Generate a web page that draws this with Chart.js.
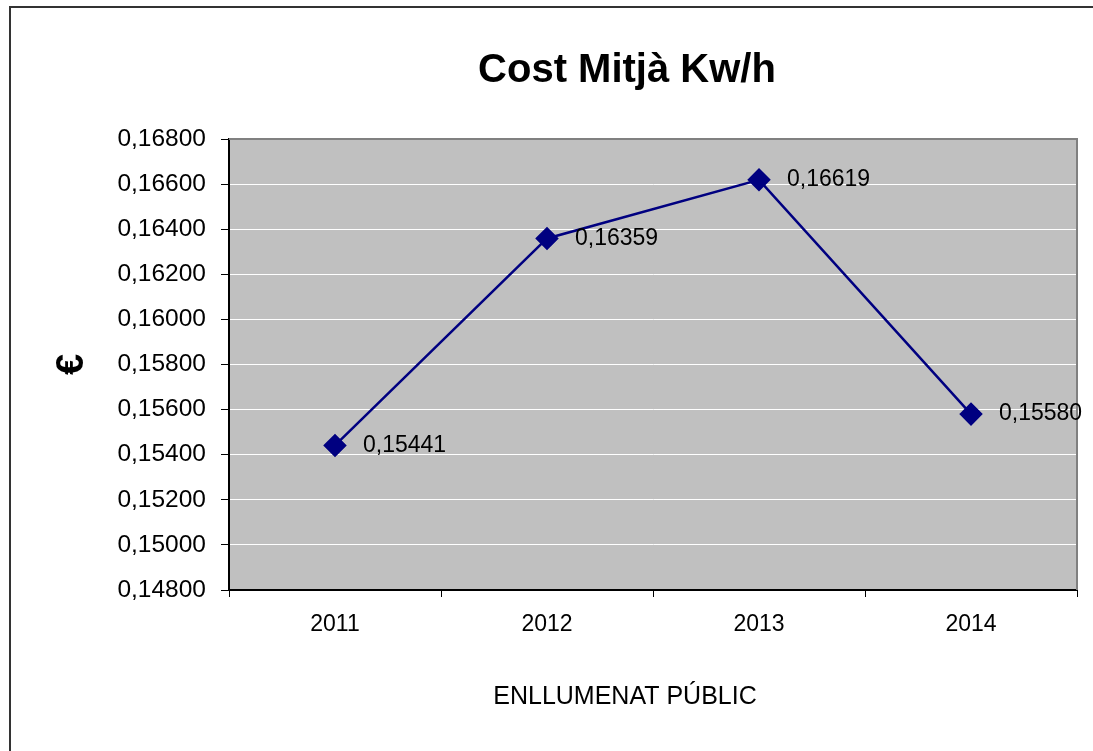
<!DOCTYPE html>
<html>
<head>
<meta charset="utf-8">
<script src="https://cdn.jsdelivr.net/npm/chart.js@4.4.0/dist/chart.umd.min.js"></script>
<style>
  html, body { margin: 0; padding: 0; background: #fff; overflow: hidden; }
  #frame {
    position: absolute; left: 9px; top: 6px; width: 2000px; height: 2000px;
    border-top: 2px solid #333; border-left: 2px solid #333;
  }
  #chart { position: absolute; left: 0; top: 0; }
</style>
</head>
<body>
<div id="frame"></div>
<canvas id="chart" width="1093" height="751"></canvas>
<script>
// chart data
const years = ['2011', '2012', '2013', '2014'];
const costPerKwh = [0.15441, 0.16359, 0.16619, 0.15580];
const yMin = 0.148;
const yMax = 0.168;
const yStep = 0.002;

const chartTitle = 'Cost Mitjà Kw/h';
const xTitle = 'ENLLUMENAT PÚBLIC';
const yTitle = '€';

const FONT = "'Liberation Sans', Arial, sans-serif";
const NAVY = '#000080';

const fmt = v => v.toFixed(5).replace('.', ',');

// grey plot background + top/right frame, like the old Excel chart
const plotArea = {
    id: 'plotArea',
    beforeDraw(chart) {
        const { ctx, chartArea: a } = chart;
        ctx.save();
        ctx.fillStyle = '#C0C0C0';
        ctx.fillRect(a.left, a.top, a.right - a.left, a.bottom - a.top);
        ctx.restore();
    },
    beforeDatasetsDraw(chart) {
        const { ctx, chartArea: a } = chart;
        ctx.save();
        ctx.strokeStyle = '#808080';
        ctx.lineWidth = 2;
        ctx.beginPath();
        ctx.moveTo(a.left, a.top);
        ctx.lineTo(a.right, a.top);
        ctx.lineTo(a.right, a.bottom);
        ctx.stroke();
        ctx.restore();
    }
};

// value labels next to the points, main title and x title
const labelsAndTitle = {
    id: 'labelsAndTitle',
    afterDatasetsDraw(chart) {
        const { ctx } = chart;
        const meta = chart.getDatasetMeta(0);
        ctx.save();
        ctx.fillStyle = '#000';
        ctx.font = `23px ${FONT}`;
        ctx.textAlign = 'left';
        ctx.textBaseline = 'middle';
        meta.data.forEach((pt, i) => {
            ctx.fillText(fmt(costPerKwh[i]), pt.x + 28, pt.y);
        });
        ctx.textAlign = 'center';
        ctx.font = `bold 40px ${FONT}`;
        ctx.fillText(chartTitle, 627, 71);
        ctx.font = `25px ${FONT}`;
        ctx.fillText(xTitle, 625, 697);
        ctx.restore();
    }
};

new Chart(document.getElementById('chart'), {
    type: 'line',
    data: {
        labels: years,
        datasets: [{
            data: costPerKwh,
            borderColor: NAVY,
            backgroundColor: NAVY,
            borderWidth: 2.5,
            tension: 0,
            pointStyle: 'rectRot',
            pointRadius: 10,
            pointHoverRadius: 10
        }]
    },
    options: {
        responsive: false,
        animation: false,
        events: [],
        layout: { padding: { left: 0, top: 139, right: 16, bottom: 0 } },
        plugins: {
            legend: { display: false },
            tooltip: { enabled: false },
            title: { display: false }
        },
        scales: {
            x: {
                offset: true,
                afterFit(scale) { scale.height = 161; },
                grid: {
                    offset: true,
                    drawOnChartArea: false,
                    tickLength: 7,
                    tickColor: '#000',
                    lineWidth: 1
                },
                border: { display: true, color: '#000', width: 2 },
                ticks: { color: '#000', font: { family: FONT, size: 23 }, padding: 14 }
            },
            y: {
                min: yMin,
                max: yMax,
                afterFit(scale) { scale.width = 229; },
                grid: {
                    color: '#fff',
                    tickColor: '#000',
                    tickLength: 8,
                    lineWidth: 1
                },
                border: { display: true, color: '#000', width: 2 },
                ticks: {
                    stepSize: yStep,
                    color: '#000',
                    font: { family: FONT, size: 24.5 },
                    padding: 15,
                    callback: v => fmt(v)
                },
                title: {
                    display: true,
                    text: yTitle,
                    color: '#000',
                    font: { family: FONT, size: 38, weight: 'bold' },
                    padding: { top: 50, bottom: 0 }
                }
            }
        }
    },
    plugins: [plotArea, labelsAndTitle]
});
</script>
</body>
</html>
